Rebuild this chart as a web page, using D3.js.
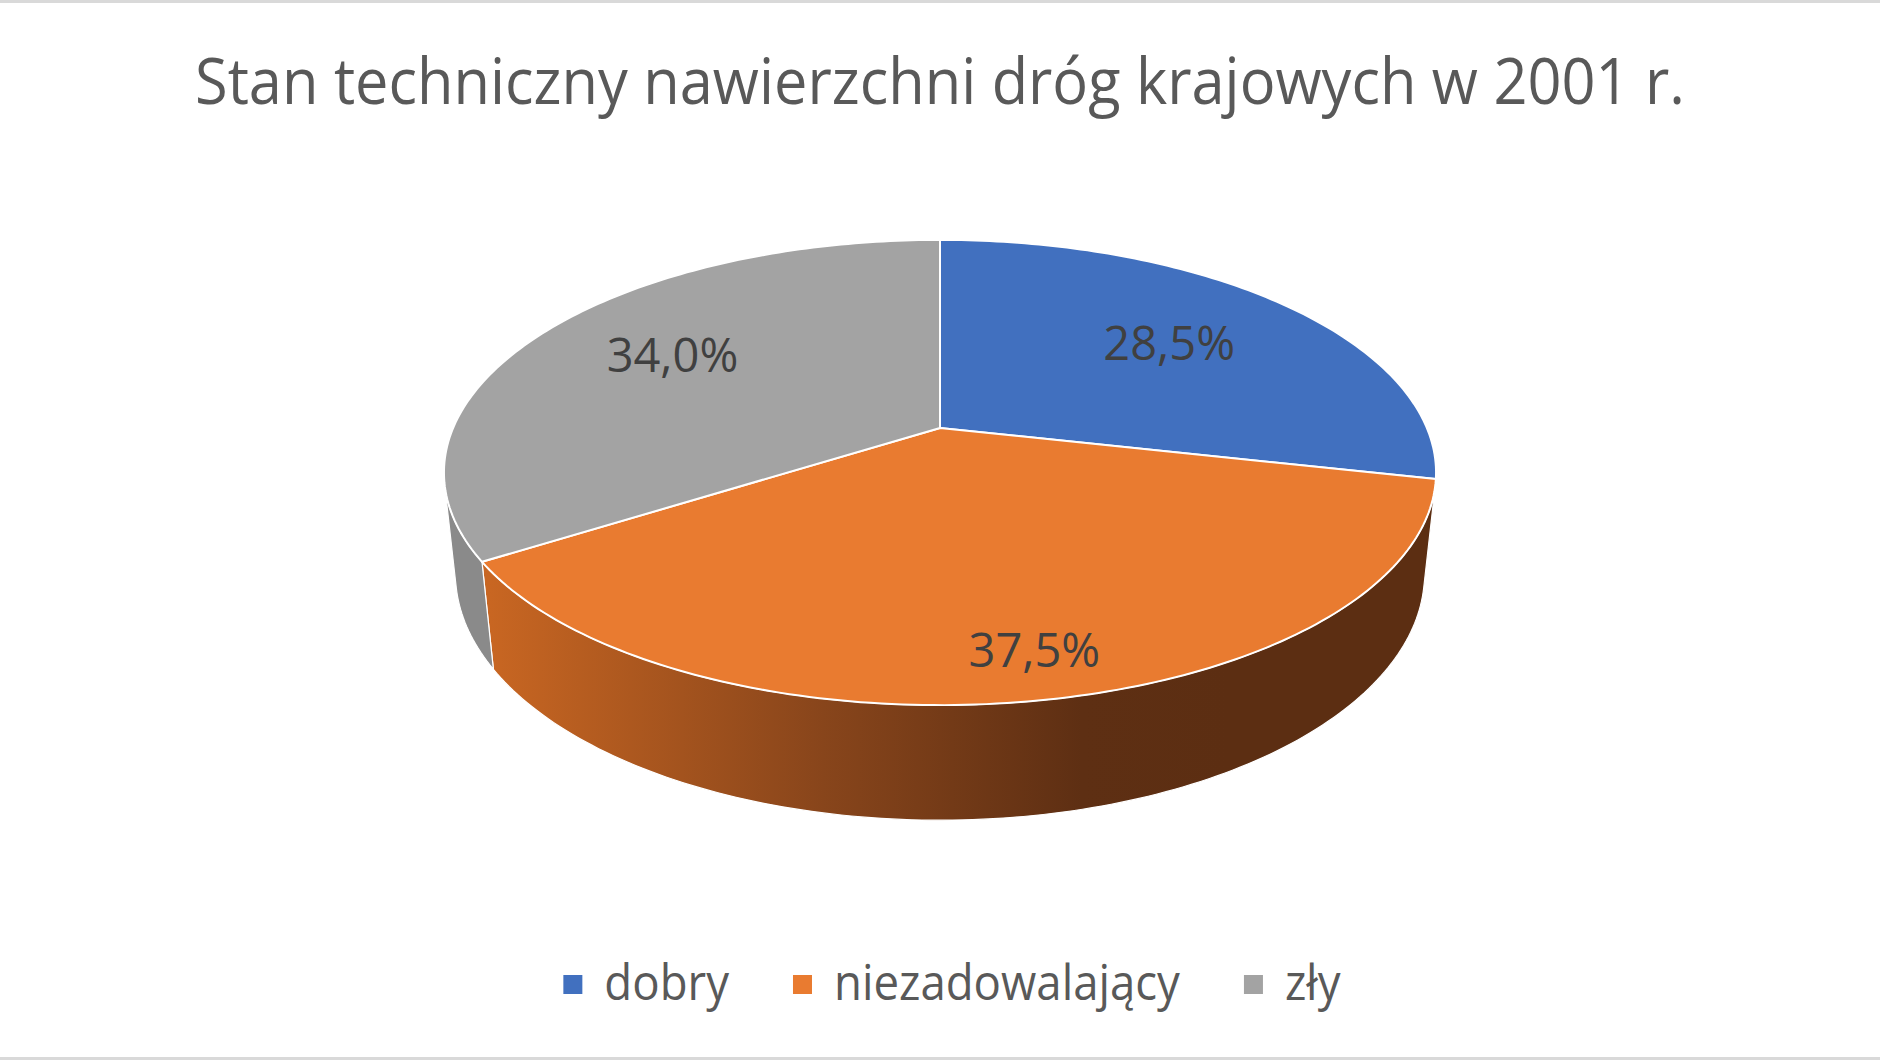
<!DOCTYPE html>
<html>
<head>
<meta charset="utf-8">
<script src="https://cdn.jsdelivr.net/npm/d3@7"></script>
<style>
  body { margin: 0; background: #fff; }
  text { font-family: "Open Sans", "Noto Sans", sans-serif; }
</style>
</head>
<body>
<div id="chart"></div>
<script>
// data
var categories = ["dobry", "niezadowalający", "zły"];
var shares = [28.5, 37.5, 34.0];
var valueLabels = ["28,5%", "37,5%", "34,0%"];
var topColors = ["#4170BF", "#E97B30", "#A3A3A3"];
var sideColors = ["#2C4E86", "url(#orangeSide)", "#8A8A8A"];
var chartTitle = "Stan techniczny nawierzchni dróg krajowych w 2001 r.";

// Step 1: set up the chart
var svgWidth = 1880;
var svgHeight = 1060;

var cx = 940, cy = 428;          // where the slices meet
var tilt = 27.2 * Math.PI / 180; // camera elevation
var dist = 4.65;                 // camera distance (in radii)
var focal = 2280;
var xStretch = 0.993;
var thick = 0.234;               // pie thickness (in radii)
var labelRadius = [0.65, 0.85, 0.68];
var labelTurn = [0, -0.02, 0.03]; // small angular nudges (radians)

var svg = d3.select("#chart")
    .append("svg")
    .attr("width", svgWidth)
    .attr("height", svgHeight);

var defs = svg.append("defs");
var grad = defs.append("linearGradient")
    .attr("id", "orangeSide")
    .attr("gradientUnits", "userSpaceOnUse")
    .attr("x1", 490).attr("x2", 1230)
    .attr("y1", 0).attr("y2", 0);
grad.append("stop").attr("offset", 0).attr("stop-color", "#C86622");
grad.append("stop").attr("offset", 0.45).attr("stop-color", "#88451B");
grad.append("stop").attr("offset", 0.8).attr("stop-color", "#5E2F13");
grad.append("stop").attr("offset", 1).attr("stop-color", "#5C2E12");

// thin grey frame lines at top and bottom
svg.append("rect").attr("x", 0).attr("y", 0).attr("width", svgWidth).attr("height", 3).attr("fill", "#D9D9D9");
svg.append("rect").attr("x", 0).attr("y", svgHeight - 3).attr("width", svgWidth).attr("height", 3).attr("fill", "#D9D9D9");

// perspective projection of a point on the disc
// theta clockwise from 12 o'clock (the back), r radius, h height (0 = top face)
function project(theta, r, h) {
    var u = r * Math.sin(theta);
    var v = -r * Math.cos(theta);
    var yc = v * Math.sin(tilt) - h * Math.cos(tilt);
    var zc = dist - v * Math.cos(tilt) - h * Math.sin(tilt);
    return [cx + xStretch * focal * u / zc, cy + focal * yc / zc];
}

function rim(a0, a1, h) {
    var n = Math.max(2, Math.ceil(Math.abs(a1 - a0) / (Math.PI / 180)));
    return d3.range(n + 1).map(function(i) {
        return project(a0 + (a1 - a0) * i / n, 1, h);
    });
}

var line = d3.line();

var pie = d3.pie().sort(null).value(function(d) { return d; });
var arcs = pie(shares);

// Step 2: side walls (only the front part faces the camera)
var visMin = Math.acos(-1 / (dist * Math.cos(tilt)));
var visMax = 2 * Math.PI - visMin;

var sideGroup = svg.append("g");
arcs.forEach(function(d, i) {
    var a = Math.max(d.startAngle, visMin);
    var b = Math.min(d.endAngle, visMax);
    if (a >= b) return;
    var pts = rim(a, b, 0).concat(rim(b, a, -thick));
    sideGroup.append("path")
        .attr("d", line(pts) + "Z")
        .attr("fill", sideColors[i])
        .attr("stroke", "#fff")
        .attr("stroke-width", 1.2)
        .attr("stroke-linejoin", "round");
});

// Step 3: top faces
var topGroup = svg.append("g");
arcs.forEach(function(d, i) {
    var pts = [project(0, 0, 0)].concat(rim(d.startAngle, d.endAngle, 0));
    topGroup.append("path")
        .attr("d", line(pts) + "Z")
        .attr("fill", topColors[i])
        .attr("stroke", "#fff")
        .attr("stroke-width", 2)
        .attr("stroke-linejoin", "round");
});

// Step 4: value labels
arcs.forEach(function(d, i) {
    var mid = (d.startAngle + d.endAngle) / 2 + labelTurn[i];
    var p = project(mid, labelRadius[i], 0);
    svg.append("text")
        .attr("x", p[0])
        .attr("y", p[1])
        .attr("dy", "0.36em")
        .attr("text-anchor", "middle")
        .attr("font-size", 47)
        .attr("fill", "#404040")
        .text(valueLabels[i]);
});

// Step 5: title, squeezed to the width of the original
var title = svg.append("text")
    .attr("x", 940)
    .attr("y", 104)
    .attr("text-anchor", "middle")
    .attr("font-size", 64)
    .attr("fill", "#595959")
    .text(chartTitle);
var natural = title.node().getComputedTextLength();
var squeeze = 1490 / natural;
title.attr("textLength", 1490).attr("lengthAdjust", "spacingAndGlyphs");

// Step 6: legend
var legend = svg.append("g");
var items = categories.map(function(c, i) {
    var g = legend.append("g");
    g.append("rect")
        .attr("width", 19).attr("height", 19)
        .attr("y", 975)
        .attr("fill", topColors[i]);
    var t = g.append("text")
        .attr("x", 41)
        .attr("y", 1000)
        .attr("font-size", 49)
        .attr("fill", "#595959")
        .text(c);
    var w = t.node().getComputedTextLength() * squeeze;
    t.attr("textLength", w).attr("lengthAdjust", "spacingAndGlyphs");
    return { g: g, width: 41 + w };
});
var gap = 64;
var total = d3.sum(items, function(d) { return d.width; }) + gap * (items.length - 1);
var x0 = 952 - total / 2;
items.forEach(function(it) {
    it.g.attr("transform", "translate(" + x0 + ",0)");
    x0 += it.width + gap;
});
</script>
</body>
</html>
